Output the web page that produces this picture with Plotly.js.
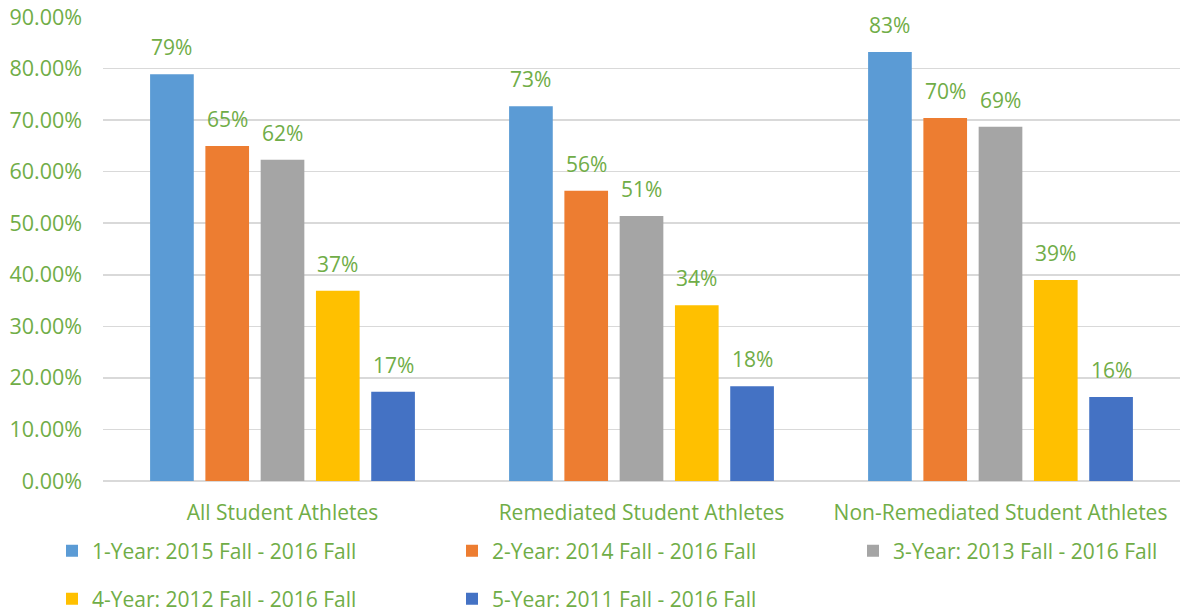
<!DOCTYPE html>
<html>
<head>
<meta charset="utf-8">
<script src="https://cdn.plot.ly/plotly-3.0.1.min.js"></script>
<style>
  html, body { margin: 0; padding: 0; background: #fff; }
  #chart { width: 1180px; height: 613px; }
</style>
</head>
<body>
<div id="chart"></div>
<script>
// categories on the x axis
const groups = ['All Student Athletes', 'Remediated Student Athletes', 'Non-Remediated Student Athletes'];

// series names and values
const seriesNames = [
    '1-Year: 2015 Fall - 2016 Fall',
    '2-Year: 2014 Fall - 2016 Fall',
    '3-Year: 2013 Fall - 2016 Fall',
    '4-Year: 2012 Fall - 2016 Fall',
    '5-Year: 2011 Fall - 2016 Fall'
];
const oneYear = [0.789, 0.727, 0.832];
const twoYear = [0.650, 0.563, 0.704];
const threeYear = [0.623, 0.514, 0.687];
const fourYear = [0.369, 0.341, 0.390];
const fiveYear = [0.173, 0.184, 0.163];

const seriesColors = ['#5B9BD5', '#ED7D31', '#A5A5A5', '#FFC000', '#4472C4'];
const GREEN = '#70AD47';
const FONT = 'Open Sans, Noto Sans, sans-serif';
const BARGAP = 0.23;

const allValues = [oneYear, twoYear, threeYear, fourYear, fiveYear];

// one legend per entry so each swatch sits in its own slot (2 rows x 3 columns)
const legendNames = ['legend', 'legend2', 'legend3', 'legend4', 'legend5'];
const legendSpots = [
    { x: 52, y: 551 }, { x: 452, y: 551 }, { x: 853, y: 551 },
    { x: 52, y: 599 }, { x: 452, y: 599 }
];

let traces = allValues.map((vals, i) => ({
    type: 'bar',
    name: seriesNames[i],
    x: groups,
    y: vals,
    marker: { color: seriesColors[i] },
    legend: legendNames[i],
    hoverinfo: 'skip'
}));

// value labels above each bar, placed in category units through the x axis
let annotations = [];
allValues.forEach((vals, i) => {
    vals.forEach((v, j) => {
        annotations.push({
            x: j + (i - 2) * (1 - BARGAP) / 5,
            y: v,
            xref: 'x',
            yref: 'y',
            text: Math.round(v * 100) + '%',
            showarrow: false,
            yanchor: 'middle',
            yshift: 27,
            font: { color: GREEN, size: 21, family: FONT }
        });
    });
});

let layout = {
    width: 1180,
    height: 613,
    margin: { l: 103, r: 0, t: 17, b: 132 },
    paper_bgcolor: '#fff',
    plot_bgcolor: '#fff',
    barmode: 'group',
    bargap: BARGAP,
    bargroupgap: 0.21,
    showlegend: true,
    annotations: annotations,
    xaxis: {
        type: 'category',
        showline: false,
        showgrid: false,
        ticks: '',
        tickfont: { color: GREEN, size: 21, family: FONT },
        ticklabelstandoff: 17
    },
    yaxis: {
        range: [0, 0.9],
        dtick: 0.1,
        tickformat: '.2%',
        showline: false,
        gridcolor: '#D9D9D9',
        gridwidth: 1.5,
        zeroline: true,
        zerolinecolor: '#D9D9D9',
        zerolinewidth: 1.5,
        tickfont: { color: GREEN, size: 21.5, family: FONT },
        ticklabelstandoff: 20
    }
};

legendNames.forEach((name, i) => {
    layout[name] = {
        orientation: 'h',
        xref: 'container',
        yref: 'container',
        x: legendSpots[i].x / 1180,
        y: 1 - legendSpots[i].y / 613,
        xanchor: 'left',
        yanchor: 'middle',
        font: { color: GREEN, size: 21, family: FONT },
        bgcolor: 'rgba(0,0,0,0)'
    };
});

Plotly.newPlot('chart', traces, layout, { staticPlot: true, displayModeBar: false });
</script>
</body>
</html>
